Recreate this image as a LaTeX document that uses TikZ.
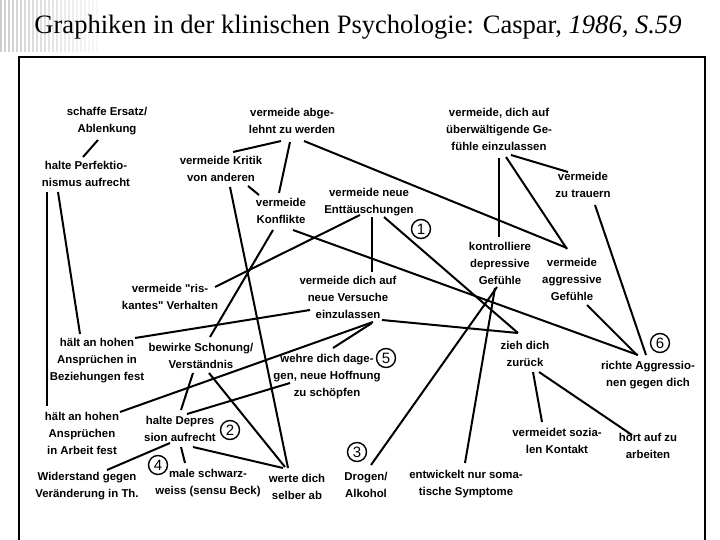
\documentclass[tikz,border=0pt]{standalone}
\usepackage{graphicx}
\usepackage{fontspec}
\setmainfont{Liberation Sans}
\newfontfamily\titlefont{Liberation Serif}
\newcommand\lk[4]{\draw[con] ([shift={#2}]#1.center) -- ([shift={#4}]#3.center);}
\begin{document}
\begin{tikzpicture}[x=1pt,y=-1pt,
  lbl/.style={align=center, font=\bfseries\fontsize{11.4}{17}\selectfont, inner sep=0pt},
  num/.style={circle, draw, line width=1.4pt, inner sep=0pt, minimum size=19pt, font=\fontsize{15}{15}\selectfont},
  con/.style={line width=2pt}]
\useasboundingbox (0,0) rectangle (720,540);
\fill[white] (0,0) rectangle (720,540);
\foreach \i in {0,...,24} {\pgfmathtruncatemacro\g{max(3,20-\i*0.7)} \fill[black!\g] ({\i*4},0) rectangle ({\i*4+2},52);}
\node[anchor=base, inner sep=0pt] (title) at (358,34) {\resizebox{647pt}{!}{\titlefont\fontsize{25}{25}\selectfont Graphiken in der klinischen Psychologie: Caspar, \textit{1986, S.59}}};
\draw[line width=1.6pt] (19,540) -- (19,57) -- (705,57) -- (705,540);

\node[lbl] (ersatz) at (107,121) {schaffe Ersatz/\\Ablenkung};
\node[lbl] (perf) at (86,174) {halte Perfektio-\\nismus aufrecht};
\node[lbl] (abgel) at (292,121) {vermeide abge-\\lehnt zu werden};
\node[lbl] (ueberw) at (499,129) {vermeide, dich auf\\überwältigende Ge-\\fühle einzulassen};
\node[lbl] (kritik) at (221,169) {vermeide Kritik\\von anderen};
\node[lbl] (trauern) at (583,185) {vermeide\\zu trauern};
\node[lbl] (konfl) at (281,211) {vermeide\\Konflikte};
\node[lbl] (enttaeu) at (369,202) {vermeide neue\\Enttäuschungen};
\node[num] (c1) at (421,229) {1};
\node[lbl] (kontr) at (500,263) {kontrolliere\\depressive\\Gefühle};
\node[lbl] (aggr) at (572,279) {vermeide\\aggressive\\Gefühle};
\node[lbl] (risk) at (170,297) {vermeide \textquotedbl ris-\\kantes\textquotedbl{} Verhalten};
\node[lbl] (versuche) at (348,297) {vermeide dich auf\\neue Versuche\\einzulassen};
\node[lbl] (hbez) at (97,361) {hält an hohen\\Ansprüchen in\\Beziehungen fest};
\node[lbl] (schon) at (201,356) {bewirke Schonung/\\Verständnis};
\node[lbl] (wehre) at (327,377) {wehre dich dage-\\gen, neue Hoffnung\\zu schöpfen};
\node[num] (c5) at (386,358) {5};
\node[lbl] (zieh) at (525,354) {zieh dich\\zurück};
\node[num] (c6) at (660,343) {6};
\node[lbl] (richte) at (648,375) {richte Aggressio-\\nen gegen dich};
\node[lbl] (harb) at (82,433) {hält an hohen\\Ansprüchen\\in Arbeit fest};
\node[lbl] (depr) at (180,429) {halte Depres\\sion aufrecht};
\node[num] (c2) at (230,430) {2};
\node[num] (c4) at (158,465) {4};
\node[lbl] (wider) at (87,486) {Widerstand gegen\\Veränderung in Th.};
\node[lbl] (male) at (208,483) {male schwarz-\\weiss (sensu Beck)};
\node[lbl] (werte) at (297,487) {werte dich\\selber ab};
\node[num] (c3) at (357,452) {3};
\node[lbl] (drogen) at (366,485) {Drogen/\\Alkohol};
\node[lbl] (somat) at (466,484) {entwickelt nur soma-\\tische Symptome};
\node[lbl] (sozial) at (557,441) {vermeidet sozia-\\len Kontakt};
\node[lbl] (hoert) at (648,446) {hört auf zu\\arbeiten};

\lk{ersatz}{(-9,19)}{perf}{(-3,-17)}
\lk{perf}{(-39,18)}{harb}{(-35,-27)}
\lk{perf}{(-28,18)}{hbez}{(-17,-27)}
\lk{abgel}{(-11,20)}{kritik}{(12,-17)}
\lk{abgel}{(-2,21)}{konfl}{(-2,-18)}
\lk{abgel}{(12,20)}{aggr}{(-5,-31)}
\lk{kritik}{(27,17)}{konfl}{(-22,-16)}
\lk{kritik}{(9,18)}{werte}{(-9,-19)}
\lk{konfl}{(-8,19)}{schon}{(9,-19)}
\lk{konfl}{(12,19)}{richte}{(-10,-20)}
\lk{enttaeu}{(-9,13)}{risk}{(45,-10)}
\lk{enttaeu}{(3,15)}{versuche}{(24,-25)}
\lk{enttaeu}{(15,15)}{zieh}{(-7,-21)}
\lk{ueberw}{(0,29)}{kontr}{(-1,-26)}
\lk{ueberw}{(7,28)}{aggr}{(-5,-30)}
\lk{ueberw}{(12,26)}{trauern}{(-15,-13)}
\lk{trauern}{(12,20)}{richte}{(-2,-20)}
\lk{aggr}{(15,26)}{richte}{(-11,-20)}
\lk{kontr}{(-3,24)}{drogen}{(5,-20)}
\lk{kontr}{(-5,25)}{somat}{(-1,-21)}
\lk{versuche}{(34,23)}{zieh}{(-7,-21)}
\lk{versuche}{(-38,13)}{hbez}{(38,-23)}
\lk{versuche}{(25,25)}{harb}{(38,-21)}
\lk{wehre}{(6,-29)}{versuche}{(24,26)}
\lk{wehre}{(-37,6)}{depr}{(7,-15)}
\lk{schon}{(-8,17)}{depr}{(1,-19)}
\lk{schon}{(8,17)}{werte}{(-12,-20)}
\lk{depr}{(13,18)}{werte}{(-14,-19)}
\lk{depr}{(-10,14)}{wider}{(20,-16)}
\lk{depr}{(1,18)}{male}{(-23,-20)}
\lk{zieh}{(8,18)}{sozial}{(-15,-19)}
\lk{zieh}{(14,18)}{hoert}{(-16,-11)}
\end{tikzpicture}
\end{document}
